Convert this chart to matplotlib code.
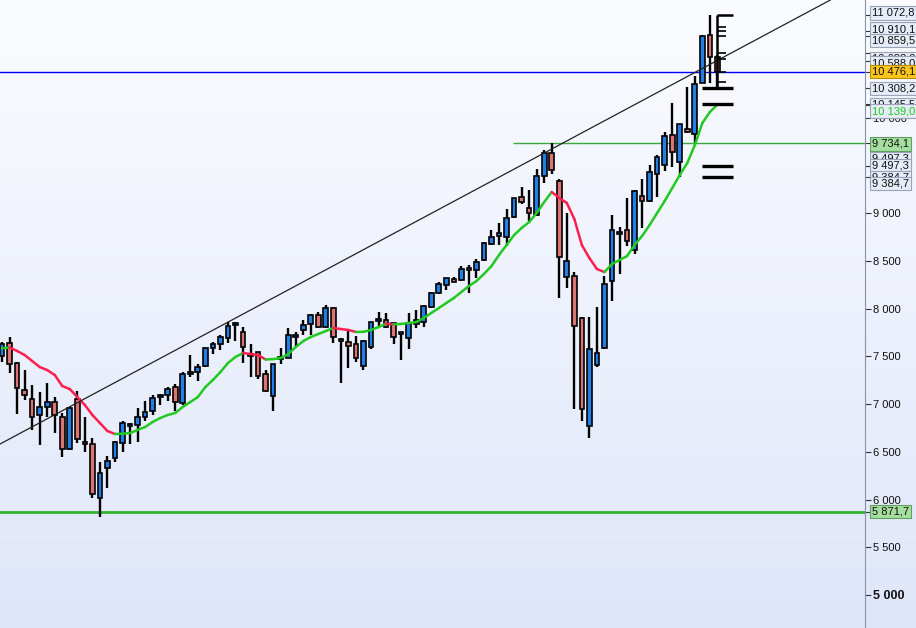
import numpy as np
import matplotlib
matplotlib.use("Agg")
import matplotlib.pyplot as plt
from matplotlib.collections import LineCollection
from matplotlib.colors import LinearSegmentedColormap
from matplotlib.transforms import blended_transform_factory

plt.rcParams['font.family'] = ['Liberation Sans', 'DejaVu Sans']

# monthly candles
opens = [7504, 7640, 7431, 7148, 7053, 6886, 6970, 7022, 6865, 6529,
         7053, 6603, 6582, 6016, 6330, 6435, 6592, 6771, 6781, 6865,
         6928, 7074, 7095, 7179, 7012, 7315, 7336, 7399, 7588, 7630,
         7693, 7829, 7756, 7525, 7546, 7315, 7085, 7473, 7483, 7703,
         7777, 7839, 7934, 7808, 8007, 7682, 7651, 7630, 7399, 7598,
         7871, 7881, 7850, 7756, 7693, 7839, 7860, 8018, 8164, 8248,
         8311, 8301, 8426, 8405, 8510, 8678, 8762, 8751, 8961, 9170,
         9055, 8982, 9391, 9632, 9338, 8332, 8343, 7902, 6771, 7410,
         7588, 8290, 8783, 8825, 8615, 9181, 9129, 9412, 9506, 9820,
         9537, 9883, 9831, 10365, 10868, 10638]
highs = [7651, 7703, 7440, 7357, 7200, 7127, 7221, 7074, 6907, 6970,
         7137, 6865, 6645, 6393, 6456, 6610, 6823, 6802, 6959, 7032,
         7095, 7106, 7179, 7211, 7336, 7515, 7420, 7598, 7651, 7724,
         7860, 7860, 7808, 7630, 7550, 7357, 7425, 7588, 7798, 7756,
         7881, 7944, 7965, 8039, 8015, 7690, 7766, 7714, 7670, 7865,
         7965, 7955, 7855, 7760, 7955, 7986, 8039, 8170, 8280, 8325,
         8332, 8447, 8458, 8521, 8695, 8825, 8898, 9045, 9165, 9275,
         9244, 9464, 9663, 9734.1, 9359, 9003, 8384, 7910, 7913, 8018,
         8343, 8982, 8856, 9160, 9244, 9359, 9506, 9611, 9852, 10156,
         9940, 10323, 10439, 10868, 11072.8, 10659]
lows = [7441, 7326, 6896, 7043, 6729, 6571, 6865, 6697, 6446, 6520,
        6592, 6498, 6016, 5820, 6121, 6393, 6498, 6582, 6603, 6823,
        6886, 6991, 7032, 6928, 6991, 7284, 7242, 7390, 7525, 7567,
        7640, 7661, 7431, 7284, 7265, 7130, 6928, 7420, 7480, 7598,
        7724, 7724, 7800, 7800, 7640, 7221, 7378, 7441, 7357, 7577,
        7808, 7798, 7630, 7462, 7577, 7798, 7808, 8010, 8154, 8196,
        8275, 8290, 8164, 8322, 8505, 8667, 8667, 8657, 8955, 9097,
        8919, 8975, 9317, 9412, 8112, 8217, 6949, 6823, 6645, 7389,
        7580, 8080, 8364, 8657, 8573, 8846, 9118, 9170, 9443, 9485,
        9380, 9841, 9736, 10360, 10365, 10308.2]
closes = [7630, 7420, 7169, 7095, 6865, 6970, 7022, 6886, 6529, 6959,
          6634, 6582, 6058, 6278, 6404, 6603, 6802, 6792, 6865, 6917,
          7064, 7095, 7158, 7022, 7315, 7336, 7389, 7588, 7630, 7703,
          7818, 7850, 7598, 7504, 7295, 7137, 7420, 7483, 7724, 7714,
          7829, 7934, 7808, 8007, 7703, 7661, 7609, 7483, 7661, 7860,
          7892, 7808, 7703, 7735, 7850, 7881, 8028, 8164, 8259, 8322,
          8280, 8416, 8405, 8489, 8688, 8751, 8793, 8950, 9160, 9118,
          9003, 9391, 9632, 9453, 8542, 8500, 7818, 6949, 7577, 7536,
          8259, 8825, 8793, 8709, 9233, 9129, 9432, 9590, 9810, 9642,
          9935, 9852, 10355, 10858, 10638, 10476.1]
ma = [7585, 7595, 7557, 7515, 7452, 7389, 7357, 7305, 7190, 7158,
      7074, 6991, 6886, 6802, 6718, 6687, 6690, 6697, 6729, 6760,
      6813, 6854, 6886, 6907, 6970, 7022, 7074, 7179, 7253, 7336,
      7431, 7494, 7536, 7525, 7515, 7468, 7472, 7483, 7525, 7598,
      7661, 7703, 7735, 7766, 7798, 7787, 7777, 7756, 7758, 7777,
      7808, 7842, 7836, 7840, 7850, 7860, 7902, 7955, 8007, 8060,
      8112, 8175, 8238, 8290, 8364, 8447, 8563, 8667, 8772, 8846,
      8908, 9003, 9118, 9223, 9160, 9108, 8940, 8667, 8531, 8416,
      8384, 8468, 8510, 8552, 8667, 8762, 8877, 9003, 9129, 9265,
      9401, 9527, 9715, 9946, 10061, 10139]

trend_x = [-0.27, 110]
trend_y = [6582, 11235]
last_price = 10476.1
support = 5871.7
resist = 9734.1
ruler_top = 11072.8
ruler_ticks = [10955, 10910.1, 10859.5, 10683.0, 10620, 10476.1, 10380]
thick_levels = [10308.2, 10145.5, 9497.3, 9384.7]

# boxed labels on the price axis: value, text, style, shift in px
labels = [(11072.8, '11 072,8', 'n', -2.5),
          (10910.1, '10 910,1', 'n', -2),
          (10859.5, '10 859,5', 'n', 5),
          (10683.0, '10 683,0', 'n', 5.5),
          (10600.0, '10 588,0', 'n', 2.5),
          (10476.1, '10 476,1', 'y', -1),
          (10308.2, '10 308,2', 'n', 0),
          (10145.5, '10 145,5', 'n', 0.5),
          (10139.0, '10 139,0', 'g_txt', 6.5),
          (9734.1, '9 734,1', 'g', 0.7),
          (9497.3, '9 497,3', 'n', -7),
          (9497.3, '9 497,3', 'n', -0.5),
          (9384.7, '9 384,7', 'n', 1),
          (9384.7, '9 384,7', 'n', 7),
          (5871.7, '5 871,7', 'g', 0)]

opens, highs, lows, closes, ma = map(np.array, (opens, highs, lows, closes, ma))
x = np.arange(len(opens))

fig = plt.figure(figsize=(9.16, 6.28), dpi=100)
bg = fig.add_axes([0, 0, 1, 1])
grad = np.linspace(0, 1, 256).reshape(-1, 1)
cmap = LinearSegmentedColormap.from_list('bg', ['#fbfcff', '#dfe6fa'])
bg.imshow(grad, aspect='auto', cmap=cmap, extent=[0, 1, 0, 1])
bg.axis('off')

ax = fig.add_axes([0, 0, 865 / 916, 1], facecolor='none')
ax.set_xlim(-0.27, 114.6)
ax.set_ylim(4654, 11235)

# candles
up = closes >= opens
body_col = np.where(up, '#2180e8', '#dc7474')
ax.vlines(x, lows, highs, color='black', lw=1.7, zorder=3)
bottom = np.minimum(opens, closes)
height = np.maximum(np.abs(closes - opens), 18)
ax.bar(x, height, bottom=bottom, width=0.62, color=body_col,
       edgecolor='black', linewidth=1.2, zorder=4)

# moving average, red while falling, green while rising
pts = np.column_stack([x, ma])
segs = np.stack([pts[:-1], pts[1:]], axis=1)
seg_col = ['#ff1f4f' if b < a else '#22c922' for a, b in zip(ma[:-1], ma[1:])]
ax.add_collection(LineCollection(segs, colors=seg_col, linewidths=1.8,
                                 zorder=5, capstyle='round'))

ax.plot(trend_x, trend_y, color='#222222', lw=0.9, zorder=5)
ax.axhline(last_price, color='#0000ff', lw=1, zorder=2)
ax.axhline(support, color='#2fb52f', lw=2, zorder=2)
ax.hlines(resist, 67.9, 114.6, color='#3aa83a', lw=1, zorder=2)

# ruler on the last bar
ax.vlines(95, thick_levels[0], ruler_top, color='black', lw=1.8, zorder=6)
ax.hlines(ruler_top, 95, 97.1, color='black', lw=1.8, zorder=6)
ax.hlines(ruler_ticks, 95, 96.1, color='black', lw=1.2, zorder=6)
ax.hlines(thick_levels, 93, 97.1, color='black', lw=2.4, zorder=6)

# price axis
for s in ['top', 'left', 'bottom']:
    ax.spines[s].set_visible(False)
ax.spines['right'].set_color('#8a93a3')
ax.set_xticks([])
ax.yaxis.tick_right()
ticks = [5000, 5500, 6000, 6500, 7000, 7500, 8000, 8500, 9000, 9500, 10000]
ax.set_yticks(ticks)
ax.set_yticklabels([f'{t:,}'.replace(',', ' ') for t in ticks])
ax.set_yticks(sorted(set(v for v, _, _, _ in labels)), minor=True)
ax.tick_params(axis='y', which='both', length=4, width=0.8, color='#333333',
               pad=2, labelsize=8, labelcolor='#111111')
lab5000 = ax.get_yticklabels()[0]
lab5000.set_fontweight('bold')
lab5000.set_fontsize(9)

tr = blended_transform_factory(ax.transAxes, ax.transData)
styles = {'n': ('#e6ecf8', '#9aa3b5', '#111111'),
          'y': ('#ffc61a', '#b88c00', '#111111'),
          'g': ('#a6dea0', '#5f9f5f', '#111111'),
          'g_txt': ('#e6ecf8', '#9aa3b5', '#1ccc1c')}
for v, txt, st, dy in labels:
    fc, ec, tc = styles[st]
    ax.annotate(txt, xy=(1, v), xycoords=tr, xytext=(7, -dy),
                textcoords='offset pixels', va='center', ha='left',
                fontsize=8, color=tc, annotation_clip=False, zorder=10,
                bbox=dict(boxstyle='square,pad=0.15', fc=fc, ec=ec, lw=0.8))

fig.savefig('out.png', dpi=100)
